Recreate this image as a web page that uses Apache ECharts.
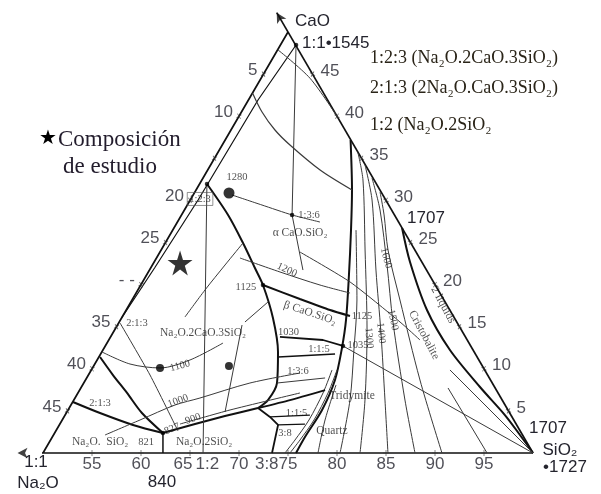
<!DOCTYPE html>
<html><head><meta charset="utf-8">
<script src="https://cdn.jsdelivr.net/npm/echarts@6/dist/echarts.min.js"></script>
<style>html,body{margin:0;padding:0;background:#fff}#c{width:601px;height:494px}</style>
</head><body><div id="c"></div>
<script>
// Ternary compositions are given as [s, c]:
// s = value read on the base scale (50 -> 100, Na2O.SiO2 -> SiO2), c = value read on the right-hand scale (0 -> 50).
const leftTickVals = [5, 10, 15, 20, 25, 30, 35, 40, 45];
const leftTickText = ['5', '10', '', '20', '25', '- -', '35', '40', '45'];
const rightTickVals = [45, 40, 35, 30, 25, 20, 15, 10, 5];
const baseTickVals = [55, 60, 65, 70, 75, 80, 85, 90, 95];
const baseExtraComp = [66.67, 72.73];
const baseExtraText = ['1:2', '3:8'];

const frameEdges = [[50, 50], [50, 0], [100, 0]];
const caoAxis = [[100, 0], [47.7, 52.3]];
const baseAxis = [[50, 0], [47.4, 0]];
const innerEdge = [[51.59, 48.46], [50.98, 41.92], [50.8, 30.05], [50.4, 22], [50.0, 16]];

const bound1 = [[50.76, 31.95], [54.75, 28.27], [57.94, 24.94], [60.64, 21.97], [62.47, 19.95], [65.45, 16.03], [67.98, 12.0], [69.72, 8.31], [69.81, 6.29], [69.27, 5.34]];
const bound2 = [[62.47, 19.95], [67.07, 18.29], [70.8, 16.98], [73.19, 16.27]];
const bound3 = [[62.8, 37.17], [65.91, 31.24], [68.19, 26.48], [70.65, 21.14], [73.02, 15.8], [74.27, 12.47], [75.46, 8.67], [75.92, 5.11], [75.78, 1.9], [75.82, 0]];
const quartz1 = [[75.07, 9.86], [75.52, 7.13], [75.69, 3.92], [75.45, 1.54], [75.2, 0]];
const quartz2 = [[74.56, 9.86], [75.01, 7.13], [75.18, 3.92], [74.94, 1.54], [74.69, 0]];
const bound4 = [[67.29, 13.78], [71.86, 13.42], [74.26, 12.71]];
const bound5 = [[68.28, 11.4], [73.92, 11.76]];
const bound6 = [[69.27, 5.34], [72.05, 6.29], [75.04, 7.48]];
const bound7 = [[50.03, 6.06], [53.44, 4.75], [57.52, 3.33], [61.05, 2.38]];
const bound8 = [[50.12, 11.4], [52.51, 9.26], [55.01, 7.13], [57.72, 4.75], [61.05, 2.38]];
const bound9 = [[61.05, 2.38], [63.79, 3.44], [66.37, 4.39], [69.27, 5.34]];
const bound10 = [[61.05, 2.38], [62.24, 0]];
const cell115 = [[69.27, 5.34], [71.02, 4.28], [72.32, 3.33], [73.37, 0]];
const cellTop = [[71.02, 4.28], [74.98, 4.51]];
const cellLow = [[72.32, 3.33], [75.01, 3.44]];
const lineMid = [[69.72, 8.31], [74.33, 8.91]];
const cristobalite = [[73.28, 26.72], [76.11, 22.68], [80.69, 16.98], [85.41, 12.23], [90.67, 7.84], [94.88, 4.51], [97.6, 2.14], [100, 0]];

const iso1000 = [[55.26, 2.14], [57.94, 3.92], [60.62, 5.7], [62.75, 6.53], [66.96, 8.31], [71.47, 9.5]];
const iso900 = [[62.26, 3.44], [66.53, 5.11], [72.66, 7.13]];
const iso1100 = [[50.02, 12.0], [53.59, 10.57], [56.89, 10.1], [59.48, 11.05], [61.84, 13.06]];
const iso1200 = [[58.52, 23.16], [63.43, 21.5], [68.29, 19.95], [71.83, 19.0]];
const iso1125 = [[68.7, 26.48], [72.95, 18.17], [75.61, 12.23], [78.18, 6.29], [80.31, 0]];
const iso1300 = [[64.33, 35.63], [66.44, 32.42], [70.81, 24.11], [75.76, 14.61], [79.71, 6.29], [82.35, 0]];
const iso1400 = [[65.76, 34.2], [68.55, 30.05], [73.11, 21.73], [77.36, 14.25], [81.75, 6.29], [85.2, 0]];
const iso1500 = [[67.24, 32.66], [69.96, 28.86], [73.94, 22.33], [77.93, 15.56], [83.79, 6.29], [87.96, 0]];
const iso1600 = [[68.89, 31.0], [70.67, 28.27], [73.15, 24.11], [77.34, 18.17], [84.13, 8.67], [90.71, 0]];
const curveUpper = [[50.0, 47.9], [55.0, 44.5], [60.2, 39.8]];
const curveWoll = [[50.0, 42.76], [52.1, 40.5], [54.49, 38.36], [56.91, 36.58], [61.47, 33.61], [65.91, 31.24]];
const tie213 = [[50.14, 15.44], [56.29, 9.26], [62.47, 2.61]];
const join123 = [[50.87, 31.71], [66.33, 0]];
const apexJoin = [[51.59, 48.46], [61.28, 28.27], [65.66, 21.73]];
const tie1280 = [[53.97, 30.64], [57.62, 29.45], [61.28, 28.27], [64.55, 27.43]];
const tie1035 = [[74.26, 12.71], [100, 0]];
const diagRight = [[64.28, 23.87], [71.18, 20.31], [78.65, 15.56], [81.76, 13.42]];
const nearSiO2a = [[86.6, 9.86], [100, 0]];
const nearSiO2b = [[87.47, 7.72], [95.31, 0]];
const quartz3 = [[75.86, 8.08], [76.82, 3.92], [78.06, 0]];
const field1 = [[56.41, 16.15], [56.85, 19.36], [57.41, 22.33], [57.94, 24.94]];
const field2 = [[62.83, 15.56], [63.99, 17.93]];
const field3 = [[62.71, 15.2], [66.14, 4.87]];

const bigDots = [[53.54, 30.88]];
const midDots = [[56.89, 10.1], [63.81, 10.33]];
const nodeDots = [[50.76, 31.95], [61.28, 28.27], [51.59, 48.46], [62.47, 19.95], [74.26, 12.71], [61.05, 2.38]];
const studyPoint = [[52.7, 22.57]];

const noteText = ['1280', '1:2:3', '1:3:6', 'α CaO.SiO₂', '1200', '1125', 'β CaO.SiO₂', '1030', '1:1:5', '1035', '1:3:6', '1:1:5', '3:8', 'Quartz', 'Tridymite', '1125', '1300', '1400', '1500', '1600', 'Cristobalite', '2 liquids', 'Na₂O.2CaO.3SiO₂', '2:1:3', '1100', '2:1:3', '1000', '827', '900', 'Na₂O.  SiO₂', '821', 'Na₂O.2SiO₂'];
const noteAt = [[53.41, 32.78], [50.94, 30.17], [63.01, 28.27], [63.16, 26.13], [64.03, 21.73], [60.85, 19.71], [68.93, 16.63], [67.9, 14.3], [71.98, 12.35], [75.73, 12.83], [71.15, 9.74], [73.5, 4.75], [73.5, 2.38], [78.18, 2.61], [78.14, 6.77], [74.41, 16.27], [76.44, 13.66], [77.36, 14.25], [77.81, 15.8], [73.42, 23.16], [81.87, 14.01], [82.03, 17.58], [59.2, 14.25], [51.87, 15.44], [58.81, 10.33], [52.85, 5.94], [60.69, 6.18], [61.73, 2.85], [63.29, 4.04], [55.17, 1.31], [59.86, 1.31], [65.78, 1.31]];
const noteTurn = [0, 0, 0, 0, -25, 0, -18, 0, 0, 0, 0, 0, 0, 0, 0, 0, -85, -85, -78, -75, -62, -62, 0, 0, 15, 0, 20, 22, 20, 0, 0, 0];

const tern = p => [p[0] + p[1] / 2, p[1]];
const sans = '"Liberation Sans", Arial, sans-serif';
const serif = '"Liberation Serif", "Times New Roman", serif';
const ink = '#24242e';
const CLEAR = 'rgba(0,0,0,0)';

function lineSeries(pts, w, col, smooth) {
  return { type: 'line', data: pts.map(tern), symbol: 'none', smooth: smooth || false, clip: false, silent: true,
    animation: false, lineStyle: { width: w, color: col }, z: 2 };
}
const THICK = '#111', THIN = '#3a3a3a';
const series = [
  lineSeries(frameEdges, 1.7, THICK),
  lineSeries(caoAxis, 1.7, THICK),
  lineSeries(baseAxis, 1.7, THICK),
  lineSeries(innerEdge, 1.2, THICK),
  lineSeries(bound1, 2, THICK, 0.3),
  lineSeries(bound2, 2, THICK, 0.2),
  lineSeries(bound3, 2, THICK, 0.3),
  lineSeries(quartz1, 1, THIN, 0.3),
  lineSeries(quartz2, 1, THIN, 0.3),
  lineSeries(bound4, 1.8, THICK),
  lineSeries(bound5, 1.5, THICK),
  lineSeries(bound6, 1.8, THICK, 0.2),
  lineSeries(bound7, 2, THICK, 0.3),
  lineSeries(bound8, 2, THICK, 0.3),
  lineSeries(bound9, 2, THICK, 0.2),
  lineSeries(bound10, 1.5, THICK),
  lineSeries(cell115, 1.8, THICK),
  lineSeries(cellTop, 1.3, THICK),
  lineSeries(cellLow, 1.3, THICK),
  lineSeries(lineMid, 1, THIN),
  lineSeries(cristobalite, 2, THICK, 0.3),
  lineSeries(iso1000, 1, THIN, 0.3),
  lineSeries(iso900, 1, THIN, 0.2),
  lineSeries(iso1100, 1, THIN, 0.3),
  lineSeries(iso1200, 1, THIN, 0.3),
  lineSeries(iso1125, 1, THIN, 0.3),
  lineSeries(iso1300, 1, THIN, 0.3),
  lineSeries(iso1400, 1, THIN, 0.3),
  lineSeries(iso1500, 1, THIN, 0.3),
  lineSeries(iso1600, 1, THIN, 0.3),
  lineSeries(curveUpper, 1, THIN, 0.3),
  lineSeries(curveWoll, 1.2, THIN, 0.3),
  lineSeries(tie213, 1, THIN, 0.2),
  lineSeries(join123, 1, THIN),
  lineSeries(apexJoin, 1, THIN),
  lineSeries(tie1280, 1, THIN, 0.2),
  lineSeries(tie1035, 1, THIN),
  lineSeries(diagRight, 1, THIN, 0.2),
  lineSeries(nearSiO2a, 1, THIN),
  lineSeries(nearSiO2b, 1, THIN),
  lineSeries(quartz3, 1, THIN, 0.3),
  lineSeries(field1, 1, THIN, 0.3),
  lineSeries(field2, 1, THIN),
  lineSeries(field3, 1, THIN)
];

// arrow heads at the ends of the two drawn axes
series.push({ type: 'scatter', silent: true, animation: false, clip: false, z: 3,
  symbol: 'arrow', symbolSize: [8, 10], itemStyle: { color: THICK },
  data: [{ value: tern(caoAxis[1]), symbolRotate: 30 }, { value: tern(baseAxis[1]), symbolRotate: 90 }] });

// tick crosses
const plus = 'path://M0,4.4L10,4.4L10,5.6L0,5.6Z M4.4,0L5.6,0L5.6,10L4.4,10Z';
series.push({ type: 'scatter', silent: true, animation: false, clip: false, z: 3, symbol: plus, symbolSize: 6,
  itemStyle: { color: '#333' },
  label: { show: true, position: 'left', distance: 2, offset: [0, -4], formatter: '{b}', fontFamily: sans, fontSize: 17, color: ink },
  data: leftTickVals.map((n, i) => ({ name: leftTickText[i], value: tern([50, 50 - n]), symbolRotate: 30 })) });
series.push({ type: 'scatter', silent: true, animation: false, clip: false, z: 3, symbol: plus, symbolSize: 6,
  itemStyle: { color: '#333' },
  label: { show: true, position: 'right', distance: 4, offset: [0, -3], formatter: '{b}', fontFamily: sans, fontSize: 17, color: ink },
  data: rightTickVals.map(c => ({ name: String(c), value: tern([100 - c, c]), symbolRotate: -30 })) });
series.push({ type: 'scatter', silent: true, animation: false, clip: false, z: 3, symbol: plus, symbolSize: 6,
  itemStyle: { color: '#333' },
  label: { show: true, position: 'bottom', distance: 0, formatter: '{b}', fontFamily: sans, fontSize: 17, color: ink },
  data: baseTickVals.map(s => ({ name: String(s), value: tern([s, 0]), label: s === 65 ? { offset: [-7, 0] } : {} })) });
series.push({ type: 'scatter', silent: true, animation: false, clip: false, z: 3, symbolSize: 2, itemStyle: { color: CLEAR },
  label: { show: true, position: 'bottom', distance: 2, offset: [1, 0], formatter: '{b}', fontFamily: sans, fontSize: 17, color: ink },
  data: baseExtraComp.map((s, i) => ({ name: baseExtraText[i], value: tern([s, 0]) })) });

// dots and study composition
series.push({ type: 'scatter', silent: true, animation: false, z: 4, symbol: 'circle', itemStyle: { color: '#000' },
  data: [].concat(
    bigDots.map(p => ({ value: tern(p), symbolSize: 11 })),
    midDots.map(p => ({ value: tern(p), symbolSize: 8 })),
    nodeDots.map(p => ({ value: tern(p), symbolSize: 4.5 }))) });
series.push({ type: 'scatter', silent: true, animation: false, z: 4,
  symbol: 'path://M50,0L61.8,36.2L100,36.2L69.1,58.6L80.9,95.1L50,72.7L19.1,95.1L30.9,58.6L0,36.2L38.2,36.2Z',
  symbolSize: 25, itemStyle: { color: '#000' }, data: studyPoint.map(tern) });

// annotations inside the diagram
const bigNames = ['Quartz', 'Tridymite', 'Cristobalite', '2 liquids', 'α CaO.SiO₂', 'β CaO.SiO₂'];
series.push({ type: 'scatter', silent: true, animation: false, clip: false, z: 5, symbolSize: 2, itemStyle: { color: CLEAR },
  label: { show: true, position: 'inside', formatter: '{b}', fontFamily: serif, fontSize: 10.5, color: '#1e1e1e' },
  data: noteText.map((t, i) => {
    const lab = { rotate: noteTurn[i] };
    if (t === '1:2:3') { lab.borderColor = '#555'; lab.borderWidth = 0.8; lab.padding = [1, 2]; }
    if (t.indexOf('Na₂O') === 0 || bigNames.indexOf(t) >= 0) lab.fontSize = 11.5;
    return { name: t, value: tern(noteAt[i]), label: lab };
  }) });

function txt(text, x, y, size, fam, align, color) {
  return { type: 'text', silent: true, style: { text, x, y, font: size + 'px ' + fam, fill: color || ink,
    textAlign: align || 'left', textVerticalAlign: 'middle' } };
}
const graphic = [
  txt('CaO', 295, 21, 17, sans),
  txt('1:1•1545', 302, 43, 17, sans),
  txt('1707', 426, 218, 17, sans, 'center'),
  txt('1707', 548, 428, 17, sans, 'center'),
  txt('SiO₂', 560, 450, 17, sans, 'center'),
  txt('•1727', 565, 467, 17, sans, 'center'),
  txt('1:1', 36, 462, 17, sans, 'center'),
  txt('Na₂O', 38, 483, 17, sans, 'center'),
  txt('840', 162, 482, 17, sans, 'center'),
  txt('1:2:3 (Na₂O.2CaO.3SiO₂)', 370, 58, 18, serif, 'left', '#2a2418'),
  txt('2:1:3 (2Na₂O.CaO.3SiO₂)', 370, 88, 18, serif, 'left', '#2a2418'),
  txt('1:2 (Na₂O.2SiO₂', 370, 125, 18, serif, 'left', '#2a2418'),
  txt('★', 39, 139, 20, serif, 'left', '#000'),
  txt('Composición', 58, 140, 23, serif, 'left', '#221c2c'),
  txt('de estudio', 63, 167, 23, serif, 'left', '#221c2c')
];

const chart = echarts.init(document.getElementById('c'), null, { renderer: 'canvas', width: 601, height: 494 });
chart.setOption({
  animation: false,
  backgroundColor: '#fff',
  grid: { left: 43, right: 68, top: 32, bottom: 41, containLabel: false },
  xAxis: { type: 'value', min: 50, max: 100, show: false },
  yAxis: { type: 'value', min: 0, max: 50, show: false },
  series: series,
  graphic: graphic
});
</script>
</body></html>
